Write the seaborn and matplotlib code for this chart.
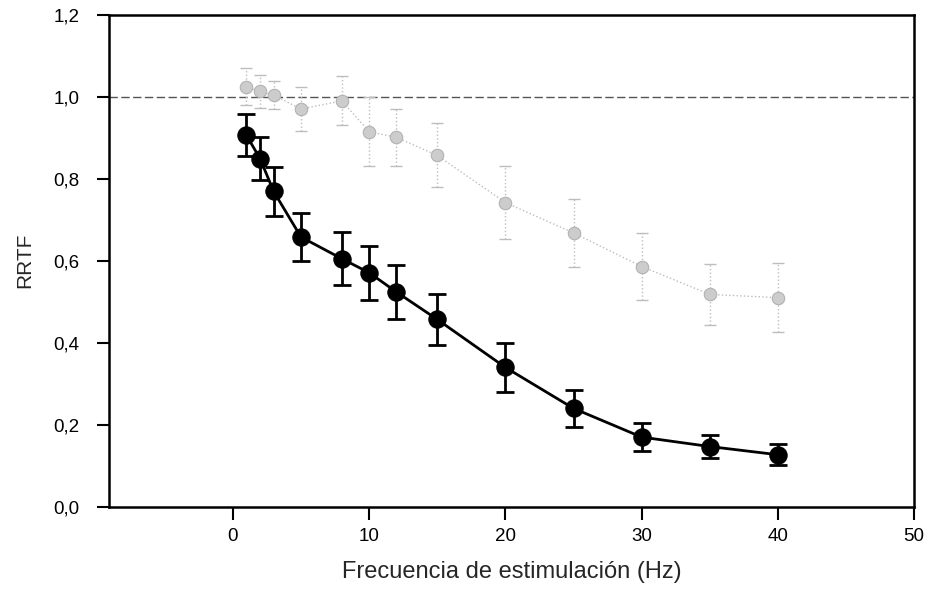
import matplotlib
matplotlib.use("Agg")
import matplotlib.pyplot as plt
import seaborn as sns
import pandas as pd
from matplotlib.ticker import FuncFormatter

freq = [1, 2, 3, 5, 8, 10, 12, 15, 20, 25, 30, 35, 40]
black_mean = [0.906, 0.849, 0.769, 0.658, 0.605, 0.571, 0.524, 0.457, 0.340, 0.240, 0.170, 0.147, 0.127]
black_err = [0.051, 0.053, 0.059, 0.058, 0.065, 0.066, 0.066, 0.063, 0.060, 0.046, 0.034, 0.028, 0.026]
gray_mean = [1.025, 1.013, 1.004, 0.970, 0.990, 0.915, 0.901, 0.857, 0.742, 0.668, 0.586, 0.518, 0.510]
gray_err = [0.045, 0.040, 0.035, 0.053, 0.060, 0.085, 0.070, 0.078, 0.088, 0.082, 0.081, 0.074, 0.084]
xticks = [0, 10, 20, 30, 40, 50]
yticks = [0.0, 0.2, 0.4, 0.6, 0.8, 1.0, 1.2]

sns.set_theme(style="white")
plt.rcParams['font.family'] = ['Liberation Sans', 'DejaVu Sans']

df_b = pd.DataFrame({"x": freq, "y": black_mean})
df_g = pd.DataFrame({"x": freq, "y": gray_mean})

fig = plt.figure(figsize=(9.3, 5.9), dpi=100)
ax = fig.add_axes([0.117, 0.141, 0.866, 0.834])

ax.axhline(1.0, color="#555555", lw=1.0, ls=(0, (6, 2.5)), zorder=1)

gray_c = "#bdbdbd"
eb = ax.errorbar(freq, gray_mean, yerr=gray_err, fmt="none", ecolor=gray_c,
                 elinewidth=1.0, capsize=4.5, capthick=1.0, zorder=2)
for c in eb[2]:
    c.set_linestyle(":")
sns.lineplot(data=df_g, x="x", y="y", ax=ax, color=gray_c, lw=1.0, ls=":",
             marker="o", markersize=9, markerfacecolor="#cccccc",
             markeredgecolor="#b0b0b0", zorder=3)

ax.errorbar(freq, black_mean, yerr=black_err, fmt="none", ecolor="black",
            elinewidth=2.0, capsize=6.5, capthick=2.0, zorder=4)
sns.lineplot(data=df_b, x="x", y="y", ax=ax, color="black", lw=2.0,
             marker="o", markersize=12.5, markerfacecolor="black",
             markeredgecolor="black", zorder=5)

ax.set_xlim(-9.1, 50)
ax.set_ylim(0, 1.2)
ax.set_xticks(xticks)
ax.set_yticks(yticks)
ax.yaxis.set_major_formatter(FuncFormatter(lambda v, p: f"{v:.1f}".replace(".", ",")))
ax.xaxis.set_major_formatter(FuncFormatter(lambda v, p: f"{int(v)}"))
ax.tick_params(axis="both", direction="out", length=9, width=1.5, colors="black",
               labelsize=13.5, left=True, bottom=True)
ax.tick_params(axis="y", pad=12)
ax.tick_params(axis="x", pad=6)
for s in ax.spines.values():
    s.set_color("black")
    s.set_linewidth(1.8)
ax.set_xlabel("Frecuencia de estimulación (Hz)", fontsize=17, labelpad=12)
ax.set_ylabel("RRTF", fontsize=15, labelpad=14)
ax.grid(False)

fig.savefig("out.png", dpi=100)
